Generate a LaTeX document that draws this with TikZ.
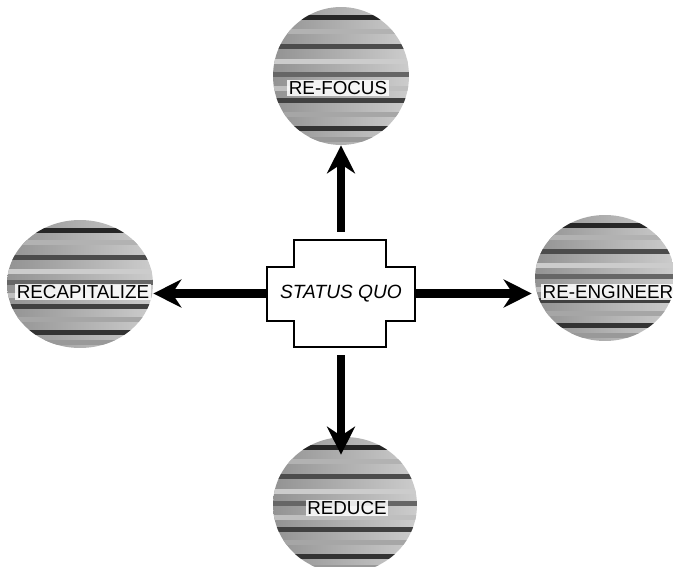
\documentclass[tikz,border=0pt]{standalone}
\usepackage{fontspec}
\setmainfont{Liberation Sans}
\usetikzlibrary{shapes.geometric}
\usetikzlibrary{arrows.meta}
\usetikzlibrary{calc}

\tikzset{
  blob/.style={ellipse, draw=none, left color=gray!85, right color=gray!40, inner sep=0pt,
    path picture={
      \foreach \f/\c in {0.06/85,0.16/30,0.27/70,0.38/20,0.47/60,0.57/25,0.66/75,0.76/35,0.86/80,0.94/40}
        {\fill[black!\c] ($(path picture bounding box.north west)!\f!(path picture bounding box.south west)$) rectangle ++(200,5);}
    }},
  tag/.style={fill=white, fill opacity=0.85, text opacity=1, inner sep=1pt, font=\fontsize{10.7}{12}\selectfont},
  bigarrow/.style={line width=5pt, -{Stealth[length=0.56cm, width=0.56cm]}},
  crossline/.style={draw=black, line width=0.6pt, fill=white}
}

\begin{document}
\begin{tikzpicture}[x=0.02cm, y=-0.02cm]
\useasboundingbox (0,0) rectangle (673,567);
\def\gap{0.16cm}

% the four outcomes
\node [blob, minimum width=2.72cm, minimum height=2.76cm, name=refocus] at (341,76) {};
\node [blob, minimum width=2.92cm, minimum height=2.56cm, name=recap]   at (80,284) {};
\node [blob, minimum width=2.80cm, minimum height=2.52cm, name=reeng]   at (605,278) {};
\node [blob, minimum width=2.88cm, minimum height=2.72cm, name=reduce]  at (345,505) {};

\node [tag, name=refocustag] at (338,88)  {RE-FOCUS};
\node [tag, name=recaptag]   at (83,292)  {RECAPITALIZE};
\node [tag, name=reengtag]   at (608,292) {RE-ENGINEER};
\node [tag, name=reducetag]  at (347,508) {REDUCE};

% centre cross
\draw [crossline] (294,240) -- (386,240) -- (386,267) -- (415,267) -- (415,321) -- (386,321)
  -- (386,347) -- (294,347) -- (294,321) -- (267,321) -- (267,267) -- (294,267) -- cycle;
\node [minimum width=2.96cm, minimum height=2.14cm, inner sep=0pt, font=\fontsize{10.9}{12}\itshape, name=sq] at (341,293.5) {STATUS QUO};

\draw [bigarrow, shorten <=\gap] (sq.north) to (refocus.south);
\draw [bigarrow] (sq.west) to (recap.east |- sq.west);
\draw [bigarrow] (sq.east) to ([xshift=-0.06cm]reeng.west |- sq.east);
\draw [bigarrow, shorten <=\gap, shorten >=-0.36cm] (sq.south) to (sq.south |- reduce.north);
\end{tikzpicture}
\end{document}
